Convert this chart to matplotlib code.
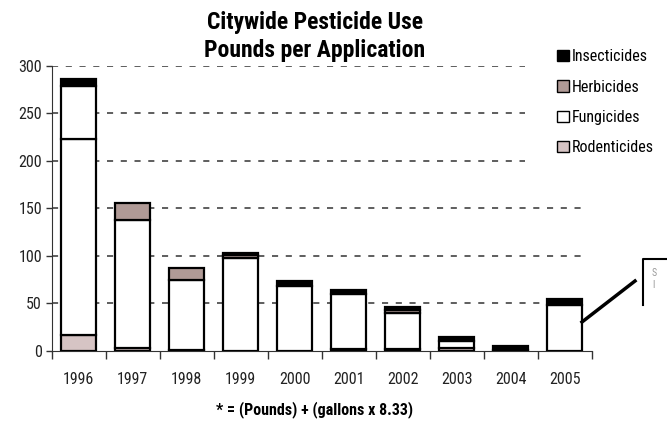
import matplotlib.pyplot as plt
import matplotlib.patches as mpatches
from matplotlib.lines import Line2D
import numpy as np

# data
years = ['1996', '1997', '1998', '1999', '2000', '2001', '2002', '2003', '2004', '2005']
rodenticides = [17, 3, 0.8, 0, 0, 2, 2, 3, 0.8, 0]
fungicides = [206, 134, 74, 98, 68, 58, 38, 7, 0, 48.5]
other = [56, 0, 0, 0, 0, 0, 0, 0, 0, 0]
herbicides = [0, 18, 12, 3, 0, 0, 3, 0, 0, 0]
insecticides = [7, 0, 0, 2, 5, 4, 3, 4, 4, 6]
y_ticks = [0, 50, 100, 150, 200, 250, 300]

plt.rcParams['font.family'] = ['Roboto Condensed', 'PT Sans Narrow', 'Liberation Sans', 'DejaVu Sans']

fig = plt.figure(figsize=(6.67, 4.23), dpi=100)
ax = fig.add_axes([0.0775, 0.171, 0.8095, 0.674])

c_ins = '#000000'
c_herb = '#B09A96'
c_fung = '#FFFFFF'
c_rod = '#D6C4C4'

x = np.arange(len(years))
w = 0.65
kw = dict(width=w, edgecolor='black', linewidth=1.6, zorder=3)
bottom = np.zeros(len(years))
series = [(rodenticides, c_rod), (fungicides, c_fung), (other, c_fung),
          (herbicides, c_herb), (insecticides, c_ins)]
for vals, col in series:
    vals = np.array(vals, dtype=float)
    m = vals > 0
    ax.bar(x[m], vals[m], bottom=bottom[m], color=col, **kw)
    bottom += vals

ax.set_xlim(-0.5, len(years) - 0.5)
ax.set_ylim(0, 300)
ax.set_yticks(y_ticks)
ax.set_yticklabels([str(v) for v in y_ticks], fontsize=11.5, color='#222222')
ax.set_xticks(x)
ax.set_xticklabels(years, fontsize=11.5, color='#222222')
ax.set_xticks(np.arange(len(years) + 1) - 0.5, minor=True)
ax.tick_params(axis='x', which='major', length=0, pad=15)
ax.tick_params(axis='x', which='minor', length=6, width=1, color='#333333')
ax.tick_params(axis='y', length=4, width=1, color='#333333', pad=3)

for v in y_ticks[1:]:
    ax.axhline(v, xmin=0, xmax=0.99, color='#333333', linestyle=(0, (4, 5)),
               linewidth=1.1, zorder=1)

for s in ['top', 'right']:
    ax.spines[s].set_visible(False)
ax.spines['left'].set_color('#333333')
ax.spines['bottom'].set_color('#333333')

# white legend area covers the upper gridlines
fig.add_artist(mpatches.Rectangle((525 / 667, 1 - 170 / 423), 142 / 667, 130 / 423,
                                  transform=fig.transFigure, facecolor='white',
                                  edgecolor='none', zorder=2))

fig.text(0.472, 1 - 22 / 423, 'Citywide Pesticide Use', ha='center', va='center',
         fontsize=17, fontweight='bold')
fig.text(0.472, 1 - 51 / 423, 'Pounds per Application', ha='center', va='center',
         fontsize=17, fontweight='bold')
fig.text(0.472, 1 - 410 / 423, '* = (Pounds) + (gallons x 8.33)', ha='center', va='center',
         fontsize=11.5, fontweight='bold')

handles = [
    mpatches.Patch(facecolor=c_ins, edgecolor='black', label='Insecticides'),
    mpatches.Patch(facecolor=c_herb, edgecolor='black', label='Herbicides'),
    mpatches.Patch(facecolor=c_fung, edgecolor='black', label='Fungicides'),
    mpatches.Patch(facecolor=c_rod, edgecolor='black', label='Rodenticides'),
]
leg = fig.legend(handles=handles, loc='upper left', bbox_to_anchor=(0.826, 1 - 43 / 423),
                 frameon=False, fontsize=11.5, handlelength=0.7, handleheight=0.7,
                 handletextpad=0.2, labelspacing=0.95, borderaxespad=0)
leg.set_zorder(5)

# callout line and clipped box at the right edge
fig.add_artist(Line2D([582 / 667, 635 / 667], [1 - 322 / 423, 1 - 281 / 423],
                      color='black', linewidth=2.5))
fig.add_artist(Line2D([643 / 667, 643 / 667, 1.0], [1 - 305 / 423, 1 - 259 / 423, 1 - 259 / 423],
                      color='black', linewidth=1.5))
fig.text(652 / 667, 1 - 273 / 423, 'S', fontsize=7, color='#999999', va='center')
fig.text(652 / 667, 1 - 285 / 423, 'I', fontsize=7, color='#999999', va='center')

fig.savefig('out.png', dpi=100, facecolor='white')
